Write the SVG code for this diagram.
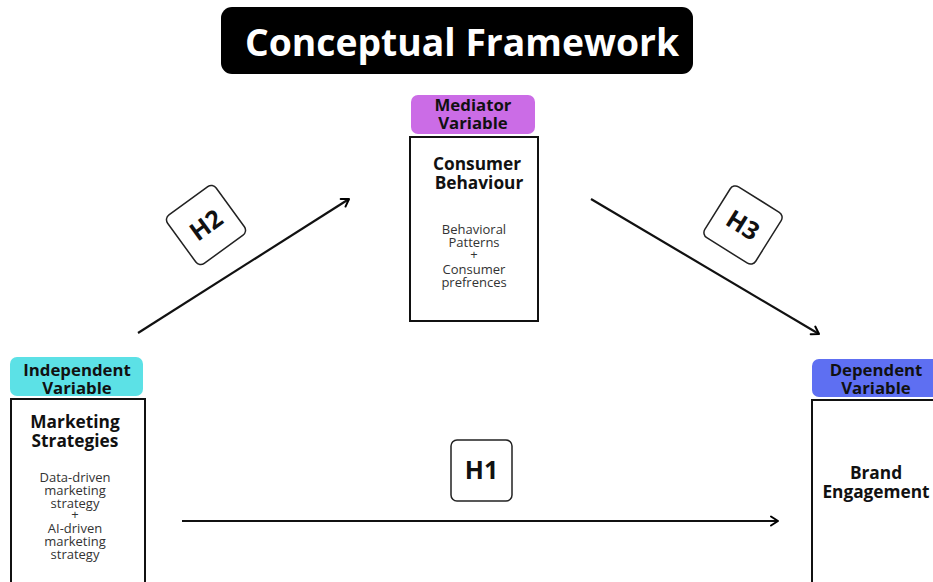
<svg xmlns="http://www.w3.org/2000/svg" width="933" height="582" viewBox="0 0 933 582">
<defs>
<marker id="arr" viewBox="0 0 12 12" refX="10" refY="6" markerWidth="12" markerHeight="12" markerUnits="userSpaceOnUse" orient="auto">
<path d="M3,1.5 L10,6 L3,10.5" fill="none" stroke="#000" stroke-width="2" stroke-linecap="round" stroke-linejoin="round"/>
</marker>
<style>
.t{font-family:"Open Sans","Noto Sans",sans-serif;text-anchor:middle;fill:#111}
.tag{font-size:16.8px;font-weight:700}
.head{font-size:17.3px;font-weight:700}
.sm{font-size:13px;font-weight:400;fill:#333}
.box{fill:#fff;stroke:#111;stroke-width:2}
.hb{fill:#fff;stroke:#222;stroke-width:1.5}
.h{font-size:25px;font-weight:700}
.conn{stroke:#111;stroke-width:2.2;fill:none}
</style>
</defs>
<rect width="933" height="582" fill="#fff"/>
<g id="title">
<rect x="221" y="7" width="472" height="67" rx="11" fill="#000"/>
<text class="t" x="462" y="56" font-size="37.3" font-weight="700" style="fill:#fff">Conceptual Framework</text>
</g>
<g id="connectors">
<line class="conn" x1="138" y1="333" x2="349" y2="199" marker-end="url(#arr)"/>
<line class="conn" x1="591" y1="199" x2="819" y2="334" marker-end="url(#arr)"/>
<line class="conn" x1="182" y1="521" x2="778" y2="521" marker-end="url(#arr)"/>
</g>
<g id="h1">
<rect class="hb" x="451" y="440" width="61" height="61" rx="6"/>
<text class="t h" x="481.5" y="479">H1</text>
</g>
<g id="h2" transform="translate(206 225) rotate(-36)">
<rect class="hb" x="-30" y="-30" width="60" height="60" rx="6"/>
<text class="t h" x="0" y="9">H2</text>
</g>
<g id="h3" transform="translate(743 225) rotate(32)">
<rect class="hb" x="-30" y="-30" width="60" height="60" rx="6"/>
<text class="t h" x="0" y="9">H3</text>
</g>
<g id="mediator">
<rect x="411" y="95" width="124" height="39" rx="7" fill="#cb6ce6"/>
<text class="t tag" x="473" y="111">Mediator</text>
<text class="t tag" x="473" y="129">Variable</text>
<rect class="box" x="410" y="137" width="128" height="184"/>
<text class="t head" x="477" y="170">Consumer</text>
<text class="t head" x="479" y="189">Behaviour</text>
<text class="t sm" x="474" y="234">Behavioral</text>
<text class="t sm" x="474" y="247">Patterns</text>
<text class="t sm" x="474" y="259" font-size="10">+</text>
<text class="t sm" x="474" y="274">Consumer</text>
<text class="t sm" x="474" y="287">prefrences</text>
</g>
<g id="independent">
<rect x="10" y="357" width="133" height="39" rx="7" fill="#5ce1e6"/>
<text class="t tag" x="77" y="376">Independent</text>
<text class="t tag" x="77" y="394">Variable</text>
<rect class="box" x="11" y="399" width="134" height="190"/>
<text class="t head" x="75" y="428">Marketing</text>
<text class="t head" x="75" y="447">Strategies</text>
<text class="t sm" x="75" y="482">Data-driven</text>
<text class="t sm" x="75" y="495">marketing</text>
<text class="t sm" x="75" y="508">strategy</text>
<text class="t sm" x="75" y="519" font-size="10">+</text>
<text class="t sm" x="75" y="533">AI-driven</text>
<text class="t sm" x="75" y="546">marketing</text>
<text class="t sm" x="75" y="559">strategy</text>
</g>
<g id="dependent">
<rect x="812" y="359" width="130" height="38" rx="7" fill="#5e6ff2"/>
<text class="t tag" x="876" y="376">Dependent</text>
<text class="t tag" x="876" y="394">Variable</text>
<rect class="box" x="812" y="400" width="130" height="190"/>
<text class="t head" x="876" y="479">Brand</text>
<text class="t head" x="876" y="498">Engagement</text>
</g>
</svg>
